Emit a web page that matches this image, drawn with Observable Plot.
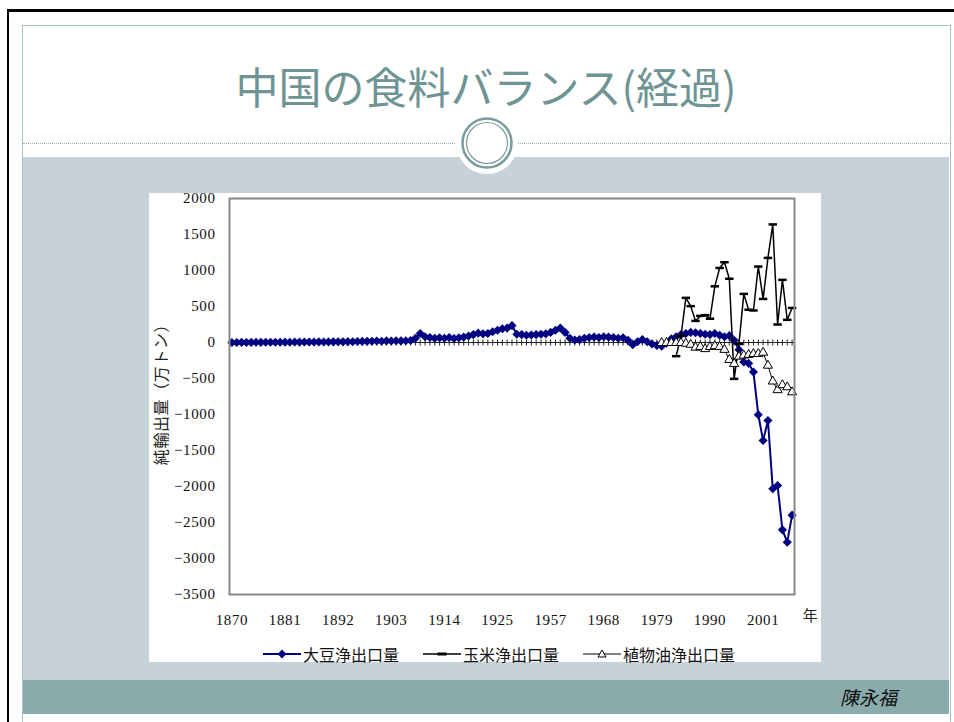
<!DOCTYPE html>
<html><head><meta charset="utf-8">
<script src="https://cdn.jsdelivr.net/npm/d3@7"></script>
<script src="https://cdn.jsdelivr.net/npm/@observablehq/plot@0.6"></script>
<style>
body{margin:0;width:954px;height:722px;position:relative;overflow:hidden;background:#fff;font-family:"Noto Sans CJK JP",sans-serif;}
.abs{position:absolute;}
#legend{position:absolute;left:114px;top:453px;height:16px;display:flex;align-items:center;font-size:16px;line-height:16px;color:#111;white-space:nowrap;}
#legend .item{display:flex;align-items:center;margin-right:24px;}
#legend svg{margin-right:2px;}
</style></head><body>
<div class="abs" style="left:7px;top:9px;width:947px;height:3px;background:#000"></div>
<div class="abs" style="left:7px;top:9px;width:2px;height:713px;background:#000"></div>
<div class="abs" style="left:22px;top:25px;width:927px;height:700px;border:1px solid #a9c1c1;border-bottom:none;"></div>
<div class="abs" style="left:23px;top:143px;width:926px;height:0;border-top:1px dotted #8fb0b0;"></div>
<div class="abs" style="left:23px;top:157px;width:926px;height:523px;background:#c6d2d8;"></div>
<div class="abs" style="left:23px;top:680px;width:926px;height:34px;background:#8aabab;"></div>
<svg class="abs" style="left:455px;top:111px" width="64" height="64">
  <circle cx="32" cy="32" r="31" fill="#fff"/>
  <circle cx="32" cy="32" r="24.5" fill="none" stroke="#7a9c9c" stroke-width="2.5"/>
  <circle cx="32" cy="32" r="20.5" fill="none" stroke="#7a9c9c" stroke-width="1.2"/>
</svg>
<div id="title" class="abs" style="left:22px;width:928px;top:62px;height:46px;line-height:46px;text-align:center;font-size:43px;font-weight:400;color:#6e9494;"></div>
<div id="author" class="abs" style="left:840px;top:684px;height:26px;line-height:26px;font-size:19px;font-style:italic;color:#111;"></div>
<div id="chartbox" class="abs" style="left:149px;top:193px;width:672px;height:469px;background:#fff;">
  <div id="legend"></div>
</div>
<script>
// ---- data ----
const titleText = "中国の食料バランス(経過)";
const authorText = "陳永福";
const yLabel = "純輸出量（万トン）";
const xUnit = "年";
const seriesNames = ["大豆浄出口量", "玉米浄出口量", "植物油浄出口量"];

// category years (axis is categorical; 1931-1951 not present)
const years = [...d3.range(1870, 1931), ...d3.range(1952, 2008)];
const xTickLabels = [1870, 1881, 1892, 1903, 1914, 1925, 1957, 1968, 1979, 1990, 2001];
const yTicks = [2000, 1500, 1000, 500, 0, -500, -1000, -1500, -2000, -2500, -3000, -3500];

// soybean net export, 1870..2007 (117 categories)
const soybean = [
  0,0,2,0,2,3,2,3,4,3,
  4,5,4,6,5,6,7,6,8,7,
  8,9,10,9,12,11,14,15,16,18,
  20,18,22,20,24,22,25,28,
  60,125,80,70,60,65,60,70,55,65,75,90,
  110,130,120,125,150,170,190,200,235,
  115,110,100,105,110,115,120,140,170,200,140,
  60,35,40,60,70,75,70,80,75,70,
  60,65,30,-30,10,40,10,-20,-40,-50,-10,50,80,
  110,125,140,135,125,115,110,125,100,80,95,30,
  -100,-270,-290,-410,-1004,-1361,-1083,-2032,-1986,-2602,-2773,-2398
];
// corn net export, 1983..2007
const cornYears = d3.range(1983, 2008);
const corn = [-190,90,620,505,300,370,380,330,780,1035,1115,885,-505,-20,675,455,445,1055,605,1175,1640,250,870,315,480];
// vegetable oil net export, 1980..2007
const oilYears = d3.range(1980, 2008);
const oil = [-5,-5,-5,-5,-5,-15,-30,-70,-60,-90,-60,-50,-60,-100,-240,-296,-195,-180,-170,-157,-157,-140,-320,-540,-660,-590,-620,-690];

// ---- build ----
document.getElementById("title").textContent = titleText;
document.getElementById("author").textContent = authorText;

const soyData = years.map((y, i) => ({year: y, v: soybean[i]}));
const cornData = cornYears.map((y, i) => ({year: y, v: corn[i]}));
const oilData = oilYears.map((y, i) => ({year: y, v: oil[i]}));

const vtick = {draw(ctx, size) { const r = Math.sqrt(size / Math.PI); ctx.moveTo(0, -r); ctx.lineTo(0, r); }};
const hbar = {draw(ctx, size) { const r = Math.sqrt(size / Math.PI); ctx.moveTo(-r, 0); ctx.lineTo(r, 0); }};

const numFont = "'Liberation Serif', serif";
const cjkFont = "'Noto Sans CJK JP', sans-serif";

const chart = Plot.plot({
  width: 672, height: 440,
  marginLeft: 80, marginRight: 27, marginTop: 5, marginBottom: 39,
  style: {fontFamily: numFont, fontSize: "15px", color: "#111", background: "transparent", overflow: "visible", letterSpacing: "0.6px"},
  x: {type: "point", domain: years, padding: 0.5},
  y: {domain: [-3500, 2000]},
  marks: [
    Plot.axisY({ticks: yTicks, tickSize: 0, tickPadding: 14, label: null, tickFormat: d => String(d).replace("-", "\u2212")}),
    Plot.axisX({ticks: xTickLabels, tickSize: 0, tickPadding: 20, label: null, tickFormat: d => String(d)}),
    Plot.text([yLabel], {frameAnchor: "left", textAnchor: "middle", rotate: -90, dx: -68, dy: -6, fontSize: 16, fontFamily: cjkFont, fill: "#222"}),
    Plot.text([xUnit], {frameAnchor: "bottom-right", textAnchor: "middle", dx: 16, dy: 26, fontSize: 15, fontFamily: cjkFont, fill: "#222"}),
    Plot.ruleY([0], {stroke: "#222", strokeWidth: 1}),
    Plot.dot(years, {x: d => d, y: () => 0, symbol: vtick, r: 3, stroke: "#222", fill: "none", strokeWidth: 1}),
    Plot.line(soyData, {x: "year", y: "v", stroke: "#000080", strokeWidth: 2}),
    Plot.dot(soyData, {x: "year", y: "v", symbol: "diamond2", r: 4.1, fill: "#000080", stroke: "none"}),
    Plot.line(cornData, {x: "year", y: "v", stroke: "#000", strokeWidth: 1.5}),
    Plot.dot(cornData, {x: "year", y: "v", symbol: hbar, r: 4.2, stroke: "#000", fill: "none", strokeWidth: 2.5}),
    Plot.line(oilData, {x: "year", y: "v", stroke: "#000", strokeWidth: 1}),
    Plot.dot(oilData, {x: "year", y: "v", symbol: "triangle", r: 3.4, fill: "#fff", stroke: "#000", strokeWidth: 1}),
    Plot.frame({stroke: "#888", strokeWidth: 2})
  ]
});
const box = document.getElementById("chartbox");
chart.style.position = "absolute"; chart.style.left = "0px"; chart.style.top = "0px";
box.insertBefore(chart, box.firstChild);

// legend
const legend = document.getElementById("legend");
const samples = [
  `<svg width="38" height="16"><line x1="0" y1="8" x2="38" y2="8" stroke="#000080" stroke-width="2"/><path d="M19,3.5L23.5,8L19,12.5L14.5,8Z" fill="#000080"/></svg>`,
  `<svg width="38" height="16"><line x1="0" y1="8" x2="38" y2="8" stroke="#000" stroke-width="1.5"/><line x1="14.5" y1="8" x2="23.5" y2="8" stroke="#000" stroke-width="3"/></svg>`,
  `<svg width="38" height="16"><line x1="0" y1="8" x2="38" y2="8" stroke="#000" stroke-width="1"/><path d="M19,4L23,11L15,11Z" fill="#fff" stroke="#000" stroke-width="1"/></svg>`
];
seriesNames.forEach((n, i) => {
  const it = document.createElement("div");
  it.className = "item";
  it.innerHTML = samples[i] + `<span>${n}</span>`;
  legend.appendChild(it);
});
</script>
</body></html>
